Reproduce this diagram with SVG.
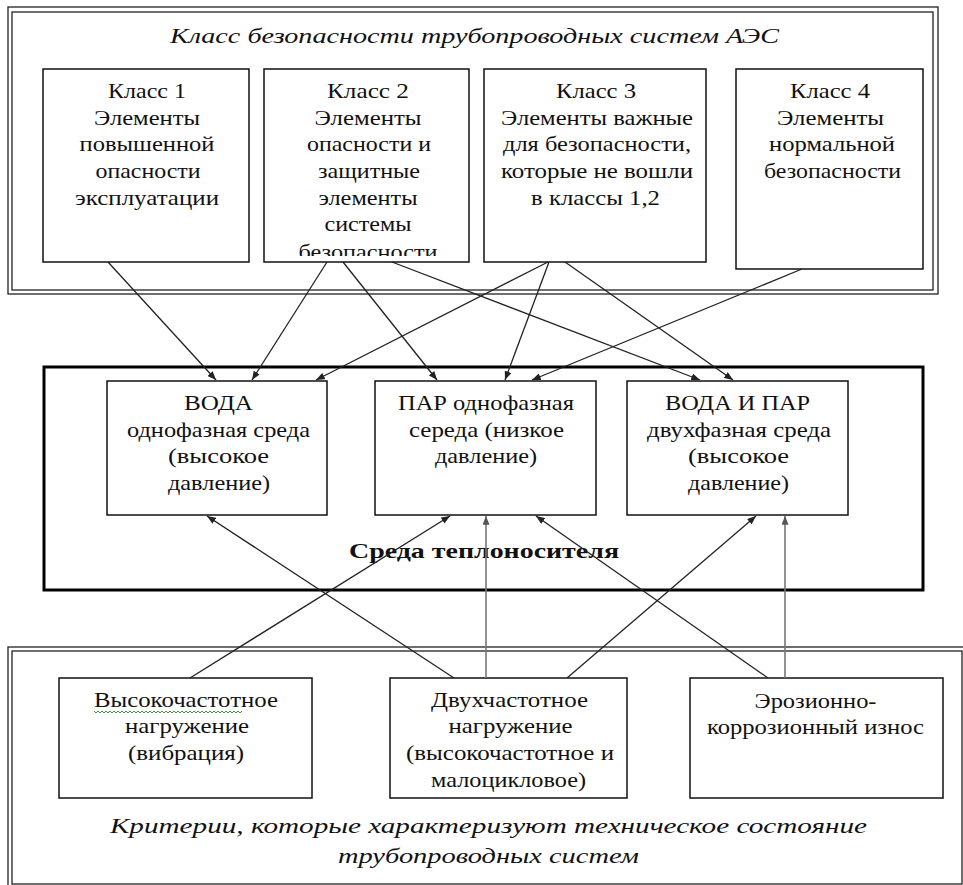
<svg xmlns="http://www.w3.org/2000/svg" width="963" height="885" viewBox="0 0 963 885">
<style>
.frame{fill:none;stroke:#222;stroke-width:1.3}
.thick{fill:none;stroke:#000;stroke-width:3}
.box{fill:#fff;stroke:#111;stroke-width:1.5}
.t{font-family:"Liberation Serif","Times New Roman",serif;font-size:21px;fill:#111;text-anchor:middle}
.it{font-family:"Liberation Serif","Times New Roman",serif;font-size:22px;font-style:italic;fill:#111;text-anchor:middle}
.b{font-family:"Liberation Serif","Times New Roman",serif;font-size:22px;font-weight:bold;fill:#111;text-anchor:middle}
.c{stroke:#222;stroke-width:1.3;fill:none;marker-end:url(#ah)}
.g{stroke:#777;stroke-width:1.6;fill:none;marker-end:url(#ahg)}
</style>
<defs>
<marker id="ah" viewBox="0 0 10 8" refX="10" refY="4" markerWidth="9" markerHeight="7" markerUnits="userSpaceOnUse" orient="auto"><path d="M0 0L10 4L0 8z" fill="#222"/></marker>
<marker id="ahg" viewBox="0 0 10 8" refX="10" refY="4" markerWidth="9" markerHeight="7" markerUnits="userSpaceOnUse" orient="auto"><path d="M0 0L10 4L0 8z" fill="#555"/></marker>
<clipPath id="clip2"><rect x="264" y="69" width="205" height="187"/></clipPath>
</defs>
<rect width="963" height="885" fill="#fff"/>

<g id="top-frame">
<rect class="frame" x="8" y="7" width="930" height="287"/>
<rect class="frame" x="12" y="12" width="921" height="278"/>
<text class="it" x="474.5" y="43" textLength="609" lengthAdjust="spacingAndGlyphs">Класс безопасности трубопроводных систем АЭС</text>
</g>

<g id="class1">
<rect class="box" x="43" y="69" width="206" height="193"/>
<text class="t" x="147" y="98" textLength="78" lengthAdjust="spacingAndGlyphs">Класс 1</text>
<text class="t" x="147" y="124.7" textLength="106" lengthAdjust="spacingAndGlyphs">Элементы</text>
<text class="t" x="147" y="151.3" textLength="135" lengthAdjust="spacingAndGlyphs">повышенной</text>
<text class="t" x="148" y="178" textLength="105" lengthAdjust="spacingAndGlyphs">опасности</text>
<text class="t" x="147" y="204.7" textLength="144" lengthAdjust="spacingAndGlyphs">эксплуатации</text>
</g>

<g id="class2">
<rect class="box" x="264" y="69" width="205" height="193"/>
<g clip-path="url(#clip2)">
<text class="t" x="368" y="98" textLength="82" lengthAdjust="spacingAndGlyphs">Класс 2</text>
<text class="t" x="368" y="124.7" textLength="107" lengthAdjust="spacingAndGlyphs">Элементы</text>
<text class="t" x="369" y="151.3" textLength="124" lengthAdjust="spacingAndGlyphs">опасности и</text>
<text class="t" x="369" y="178" textLength="102" lengthAdjust="spacingAndGlyphs">защитные</text>
<text class="t" x="368" y="204.7" textLength="99" lengthAdjust="spacingAndGlyphs">элементы</text>
<text class="t" x="368" y="231.3" textLength="87" lengthAdjust="spacingAndGlyphs">системы</text>
<text class="t" x="368" y="259" textLength="139" lengthAdjust="spacingAndGlyphs">безопасности</text>
</g>
</g>

<g id="class3">
<rect class="box" x="484" y="69" width="222" height="193"/>
<text class="t" x="596" y="98" textLength="80" lengthAdjust="spacingAndGlyphs">Класс 3</text>
<text class="t" x="597" y="124.7" textLength="192" lengthAdjust="spacingAndGlyphs">Элементы важные</text>
<text class="t" x="597" y="151.3" textLength="188" lengthAdjust="spacingAndGlyphs">для безопасности,</text>
<text class="t" x="597" y="178" textLength="192" lengthAdjust="spacingAndGlyphs">которые не вошли</text>
<text class="t" x="595.5" y="204.7" textLength="129" lengthAdjust="spacingAndGlyphs">в классы 1,2</text>
</g>

<g id="class4">
<rect class="box" x="736" y="69" width="187" height="200"/>
<text class="t" x="830" y="98" textLength="80" lengthAdjust="spacingAndGlyphs">Класс 4</text>
<text class="t" x="830.5" y="124.7" textLength="107" lengthAdjust="spacingAndGlyphs">Элементы</text>
<text class="t" x="832" y="151.3" textLength="126" lengthAdjust="spacingAndGlyphs">нормальной</text>
<text class="t" x="832.5" y="178" textLength="137" lengthAdjust="spacingAndGlyphs">безопасности</text>
</g>

<g id="medium-frame">
<rect class="thick" x="44" y="367" width="879" height="223"/>
<text class="b" x="484" y="558" textLength="270" lengthAdjust="spacingAndGlyphs">Среда теплоносителя</text>
</g>

<g id="water">
<rect class="box" x="107" y="381" width="220" height="134"/>
<text class="t" x="218.5" y="410" textLength="69" lengthAdjust="spacingAndGlyphs">ВОДА</text>
<text class="t" x="218.5" y="436.7" textLength="183" lengthAdjust="spacingAndGlyphs">однофазная среда</text>
<text class="t" x="218.5" y="463.3" textLength="101" lengthAdjust="spacingAndGlyphs">(высокое</text>
<text class="t" x="219" y="490" textLength="102" lengthAdjust="spacingAndGlyphs">давление)</text>
</g>

<g id="steam">
<rect class="box" x="375" y="381" width="221" height="134"/>
<text class="t" x="486" y="410" textLength="176" lengthAdjust="spacingAndGlyphs">ПАР однофазная</text>
<text class="t" x="486.5" y="436.7" textLength="155" lengthAdjust="spacingAndGlyphs">середа (низкое</text>
<text class="t" x="486" y="463.3" textLength="102" lengthAdjust="spacingAndGlyphs">давление)</text>
</g>

<g id="water-steam">
<rect class="box" x="627" y="381" width="221" height="134"/>
<text class="t" x="737.5" y="410" textLength="145" lengthAdjust="spacingAndGlyphs">ВОДА И ПАР</text>
<text class="t" x="739" y="436.7" textLength="184" lengthAdjust="spacingAndGlyphs">двухфазная среда</text>
<text class="t" x="738.5" y="463.3" textLength="101" lengthAdjust="spacingAndGlyphs">(высокое</text>
<text class="t" x="738.5" y="490" textLength="101" lengthAdjust="spacingAndGlyphs">давление)</text>
</g>

<g id="bottom-frame">
<rect class="frame" x="8" y="647" width="960" height="243"/>
<rect class="frame" x="12" y="651" width="950" height="233"/>
<text class="it" x="488.5" y="833" textLength="757" lengthAdjust="spacingAndGlyphs">Критерии, которые характеризуют техническое состояние</text>
<text class="it" x="488.5" y="863" textLength="301" lengthAdjust="spacingAndGlyphs">трубопроводных систем</text>
</g>

<g id="hf-load">
<rect class="box" x="59" y="678" width="253" height="120"/>
<text class="t" x="186" y="707" textLength="184" lengthAdjust="spacingAndGlyphs">Высокочастотное</text>
<path d="M94 711l2 2 2-2 2 2 2-2 2 2 2-2 2 2 2-2 2 2 2-2 2 2 2-2 2 2 2-2 2 2 2-2 2 2 2-2 2 2 2-2 2 2 2-2 2 2 2-2 2 2 2-2 2 2 2-2 2 2 2-2 2 2 2-2 2 2 2-2 2 2 2-2 2 2 2-2 2 2 2-2 2 2 2-2 2 2 2-2 2 2 2-2 2 2 2-2 2 2 2-2 2 2 2-2 2 2 2-2 2 2 2-2 2 2 2-2 2 2 2-2 2 2 2-2 2 2 2-2 2 2 2-2 2 2 2-2 2 2 2-2 2 2 2-2 2 2 2-2" fill="none" stroke="#3a9a3a" stroke-width="1"/>
<text class="t" x="187" y="733.3" textLength="124" lengthAdjust="spacingAndGlyphs">нагружение</text>
<text class="t" x="186" y="760" textLength="116" lengthAdjust="spacingAndGlyphs">(вибрация)</text>
</g>

<g id="dual-load">
<rect class="box" x="390" y="678" width="237" height="120"/>
<text class="t" x="509.5" y="707" textLength="157" lengthAdjust="spacingAndGlyphs">Двухчастотное</text>
<text class="t" x="510.5" y="733.3" textLength="124" lengthAdjust="spacingAndGlyphs">нагружение</text>
<text class="t" x="510" y="760" textLength="208" lengthAdjust="spacingAndGlyphs">(высокочастотное и</text>
<text class="t" x="508.5" y="787" textLength="155" lengthAdjust="spacingAndGlyphs">малоцикловое)</text>
</g>

<g id="erosion">
<rect class="box" x="690" y="678" width="253" height="120"/>
<text class="t" x="815.5" y="708" textLength="122" lengthAdjust="spacingAndGlyphs">Эрозионно-</text>
<text class="t" x="815.5" y="734" textLength="217" lengthAdjust="spacingAndGlyphs">коррозионный износ</text>
</g>

<g id="connectors">
<line class="c" x1="108" y1="262" x2="216" y2="380"/>
<line class="c" x1="327" y1="262" x2="252" y2="380"/>
<line class="c" x1="343" y1="262" x2="437" y2="380"/>
<line class="c" x1="392" y1="262" x2="700" y2="380"/>
<line class="c" x1="548" y1="262" x2="316" y2="380"/>
<line class="c" x1="549" y1="262" x2="505" y2="380"/>
<line class="c" x1="565" y1="262" x2="733" y2="380"/>
<line class="c" x1="802" y1="269" x2="532" y2="380"/>
<line class="c" x1="190" y1="678" x2="450" y2="516"/>
<line class="c" x1="454" y1="678" x2="207" y2="516"/>
<line class="g" x1="486" y1="678" x2="486" y2="516"/>
<line class="c" x1="567" y1="678" x2="756" y2="516"/>
<line class="c" x1="768" y1="678" x2="536" y2="516"/>
<line class="g" x1="785" y1="678" x2="785" y2="516"/>
</g>
</svg>
